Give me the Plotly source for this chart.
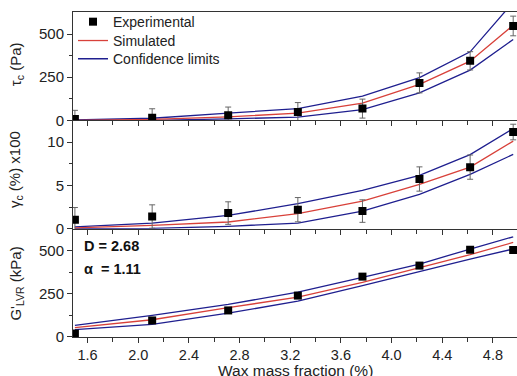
import plotly.graph_objects as go
from plotly.subplots import make_subplots

# ---- data ----
wax = [1.5, 2.11, 2.71, 3.26, 3.77, 4.22, 4.62, 4.96]

tau_exp = [8, 15, 29, 48, 68, 217, 345, 547]
tau_err = [50, 52, 48, 55, 55, 58, 53, 57]
tau_sim = [0, 5, 20, 42, 100, 209, 343, 552]
tau_up = [2, 12, 42, 68, 140, 248, 397, 685]
tau_lo = [0, 0, 8, 19, 62, 159, 291, 469]

gam_exp = [1.04, 1.4, 1.8, 2.19, 2.03, 5.73, 7.1, 11.15]
gam_err = [1.4, 1.35, 1.3, 1.4, 1.3, 1.4, 1.4, 0.9]
gam_sim = [0.1, 0.38, 0.77, 1.73, 3.18, 5.11, 7.1, 10.1]
gam_up = [0.2, 0.65, 1.53, 2.88, 4.42, 6.15, 8.54, 11.54]
gam_lo = [0.0, 0.03, 0.27, 0.65, 2.03, 3.96, 6.27, 8.57]

g_exp = [20, 96, 154, 240, 350, 414, 506, 505]
g_err = [10, 10, 10, 12, 12, 12, 15, 18]
g_sim = [54, 100, 170, 231, 317, 404, 477, 548]
g_up = [67, 125, 189, 260, 346, 423, 510, 581]
g_lo = [43, 73, 138, 208, 298, 381, 452, 510]

x_ticks = [1.6, 2.0, 2.4, 2.8, 3.2, 3.6, 4.0, 4.4, 4.8]
x_tick_labels = ["1.6", "2.0", "2.4", "2.8", "3.2", "3.6", "4.0", "4.4", "4.8"]

RED = "#d8413a"
BLUE = "#1f1f8f"
FONT = "Liberation Sans, Arial, sans-serif"

fig = make_subplots(rows=3, cols=1, shared_xaxes=True, vertical_spacing=0)

panels = [
    (tau_exp, tau_err, tau_sim, tau_up, tau_lo),
    (gam_exp, gam_err, gam_sim, gam_up, gam_lo),
    (g_exp, g_err, g_sim, g_up, g_lo),
]
for i, (ex, er, sim, up, lo) in enumerate(panels):
    row = i + 1
    first = row == 1
    fig.add_trace(go.Scatter(x=wax, y=up, mode="lines", line=dict(color=BLUE, width=1.3),
                             name="Confidence limits", showlegend=first, legend="legend3"), row=row, col=1)
    fig.add_trace(go.Scatter(x=wax, y=lo, mode="lines", line=dict(color=BLUE, width=1.3),
                             name="Confidence limits", showlegend=False), row=row, col=1)
    fig.add_trace(go.Scatter(x=wax, y=sim, mode="lines", line=dict(color=RED, width=1.3),
                             name="Simulated", showlegend=first, legend="legend2"), row=row, col=1)
    fig.add_trace(go.Scatter(x=wax, y=ex, mode="markers",
                             marker=dict(symbol="square", size=8, color="black"),
                             error_y=dict(type="data", array=er, color="#666666", thickness=1, width=3),
                             name="Experimental", showlegend=first, legend="legend"), row=row, col=1)

xcommon = dict(range=[1.485, 4.99], tickvals=x_ticks, ticktext=x_tick_labels,
               ticks="outside", ticklen=5, tickcolor="#333", showline=True, linecolor="#333",
               linewidth=1, showgrid=False, zeroline=False,
               minor=dict(dtick=0.2, tick0=1.6, ticks="outside", ticklen=4, tickcolor="#333"),
               tickfont=dict(size=14.5, color="#222"))
for r in (1, 2, 3):
    fig.update_xaxes(**xcommon, row=r, col=1)
fig.update_xaxes(mirror=True, row=1, col=1)

ycommon = dict(ticks="outside", ticklen=5, tickcolor="#333", showline=True, linecolor="#333",
               linewidth=1, showgrid=False, zeroline=False, tickfont=dict(size=15, color="#222"))
fig.update_yaxes(**ycommon, range=[0, 628], tickvals=[0, 250, 500],
                 minor=dict(tickvals=[125, 375], ticks="outside", ticklen=3, tickcolor="#333"), row=1, col=1)
fig.update_yaxes(**ycommon, range=[0, 12.5], tickvals=[0, 5, 10],
                 minor=dict(tickvals=[2.5, 7.5], ticks="outside", ticklen=3, tickcolor="#333"), row=2, col=1)
fig.update_yaxes(**ycommon, range=[0, 628], tickvals=[0, 250, 500],
                 minor=dict(tickvals=[125, 375], ticks="outside", ticklen=3, tickcolor="#333"), row=3, col=1)

ytitles = [("τ<sub>c</sub> (Pa)", 0.84), ("γ<sub>c</sub> (%) x100", 0.514), ("G'<sub>LVR</sub> (kPa)", 0.165)]
for txt, yy in ytitles:
    fig.add_annotation(text=txt, xref="paper", yref="paper", x=-0.128, y=yy, textangle=-90,
                       showarrow=False, xanchor="center", yanchor="middle",
                       font=dict(size=15, color="#222"))

fig.add_annotation(text="Wax mass fraction (%)", xref="paper", yref="paper", x=0.5, y=-0.103,
                   showarrow=False, xanchor="center", yanchor="middle",
                   font=dict(size=15.5, color="#222"))

fig.add_annotation(text="<b>D = 2.68</b>", xref="paper", yref="paper", x=0.02, y=0.28,
                   showarrow=False, xanchor="left", yanchor="middle", font=dict(size=14.5, color="#111"))
fig.add_annotation(text="<b>α  = 1.11</b>", xref="paper", yref="paper", x=0.02, y=0.21,
                   showarrow=False, xanchor="left", yanchor="middle", font=dict(size=14.5, color="#111"))

leg = dict(x=0.0, xanchor="left", yanchor="middle", bgcolor="rgba(0,0,0,0)",
           font=dict(size=14, color="#222"), itemwidth=30)
fig.update_layout(
    width=517, height=376,
    margin=dict(l=73, r=0, t=12, b=39),
    paper_bgcolor="white", plot_bgcolor="white",
    font=dict(family=FONT, color="#222"),
    legend=dict(leg, y=0.969),
    legend2=dict(leg, y=0.911),
    legend3=dict(leg, y=0.855),
    showlegend=True,
)

fig.write_html("out.html", config={"displayModeBar": False},
               post_script="document.body.style.margin='0';document.body.style.overflow='hidden';")
